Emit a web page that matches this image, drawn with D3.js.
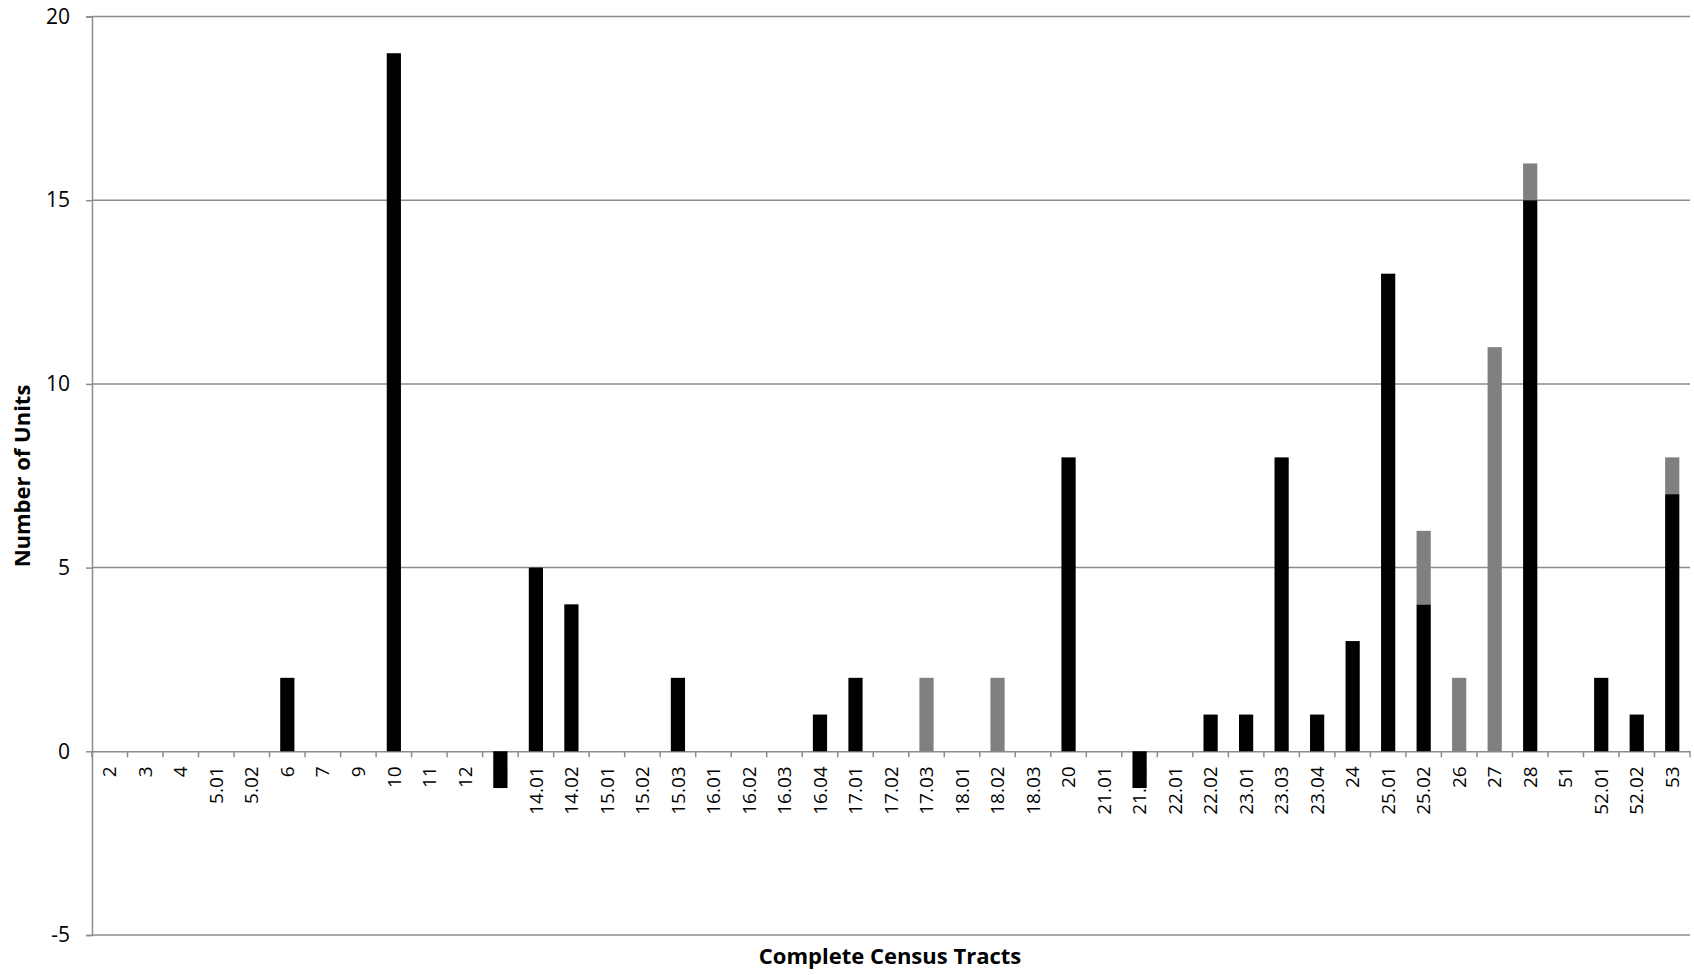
<!DOCTYPE html>
<html>
<head>
<meta charset="utf-8">
<script src="https://cdn.jsdelivr.net/npm/d3@7"></script>
<style>
  body { margin: 0; background: #fff; }
  text { font-family: "Open Sans", sans-serif; fill: #000; }
</style>
</head>
<body>
<svg id="chart" width="1694" height="975"></svg>
<script>
// census tracts along the x axis
const tracts = ["2","3","4","5.01","5.02","6","7","9","10","11","12","13","14.01","14.02",
  "15.01","15.02","15.03","16.01","16.02","16.03","16.04","17.01","17.02","17.03","18.01",
  "18.02","18.03","20","21.01","21.02","22.01","22.02","23.01","23.03","23.04","24","25.01",
  "25.02","26","27","28","51","52.01","52.02","53"];

// black series
const blackUnits = [0,0,0,0,0,2,0,0,19,0,0,-1,5,4,0,0,2,0,0,0,1,2,0,0,0,0,0,8,0,-1,0,1,1,8,1,3,13,4,0,0,15,0,2,1,7];
// gray series (stacked on top)
const grayUnits  = [0,0,0,0,0,0,0,0,0,0,0,0,0,0,0,0,0,0,0,0,0,0,0,2,0,2,0,0,0,0,0,0,0,0,0,0,0,2,2,11,1,0,0,0,1];

const yTicks = [-5, 0, 5, 10, 15, 20];

const table = tracts.map((t, i) => ({tract: t, black: blackUnits[i], gray: grayUnits[i]}));

const plotLeft = 92, plotRight = 1690, plotTop = 16.5, plotBottom = 935;
const svg = d3.select("#chart");

const x = d3.scaleBand()
  .domain(tracts)
  .range([plotLeft, plotRight])
  .paddingInner(0.6)
  .paddingOuter(0.3);

const y = d3.scaleLinear()
  .domain([-5, 20])
  .range([plotBottom, plotTop]);

const gridColor = "#8c8c8c";

// horizontal gridlines
svg.append("g")
  .selectAll("line")
  .data(yTicks.filter(d => d !== 0))
  .join("line")
    .attr("x1", plotLeft).attr("x2", plotRight)
    .attr("y1", d => y(d)).attr("y2", d => y(d))
    .attr("stroke", gridColor)
    .attr("stroke-width", 1.5);

// y axis
const yAxis = svg.append("g")
  .attr("transform", `translate(${plotLeft},0)`)
  .call(d3.axisLeft(y).tickValues(yTicks).tickFormat(d => String(d)).tickSize(6).tickPadding(16));
yAxis.select(".domain").attr("stroke", gridColor).attr("stroke-width", 1.5);
yAxis.selectAll(".tick line").attr("stroke", gridColor).attr("stroke-width", 1.5);
yAxis.selectAll(".tick text")
  .style("font-family", "'Open Sans', sans-serif")
  .style("font-size", "21px")
  .attr("fill", "#000");

// x axis at zero, labels rotated
const y0 = y(0);
const xAxis = svg.append("g")
  .attr("transform", `translate(0,${y0})`)
  .call(d3.axisBottom(x).tickSize(0).tickPadding(0));
xAxis.select(".domain").attr("stroke", gridColor).attr("stroke-width", 1.5);
xAxis.selectAll(".tick text")
  .style("font-family", "'Open Sans', sans-serif")
  .style("font-size", "19px")
  .attr("fill", "#000")
  .attr("text-anchor", "end")
  .attr("transform", "rotate(-90)")
  .attr("x", -15)
  .attr("y", 0)
  .attr("dy", "0.35em");

// boundary tick marks between categories
xAxis.append("g")
  .selectAll("line")
  .data(d3.range(tracts.length + 1))
  .join("line")
    .attr("x1", i => plotLeft + i * x.step())
    .attr("x2", i => plotLeft + i * x.step())
    .attr("y1", 0).attr("y2", 6)
    .attr("stroke", gridColor)
    .attr("stroke-width", 1.5);

// stacked bars
const series = d3.stack()
  .keys(["black", "gray"])
  .offset(d3.stackOffsetDiverging)(table);

const colors = {black: "#000000", gray: "#808080"};

svg.append("g")
  .selectAll("g")
  .data(series)
  .join("g")
    .attr("fill", d => colors[d.key])
  .selectAll("rect")
  .data(d => d.filter(p => p[1] !== p[0]))
  .join("rect")
    .attr("x", d => x(d.data.tract))
    .attr("width", x.bandwidth())
    .attr("y", d => y(Math.max(d[0], d[1])))
    .attr("height", d => Math.abs(y(d[0]) - y(d[1])));

// axis titles
svg.append("text")
  .attr("transform", "translate(30,476) rotate(-90)")
  .attr("text-anchor", "middle")
  .style("font-size", "22px")
  .style("font-weight", "bold")
  .text("Number of Units");

svg.append("text")
  .attr("x", 890)
  .attr("y", 964)
  .attr("text-anchor", "middle")
  .style("font-size", "22px")
  .style("font-weight", "bold")
  .text("Complete Census Tracts");
</script>
</body>
</html>
